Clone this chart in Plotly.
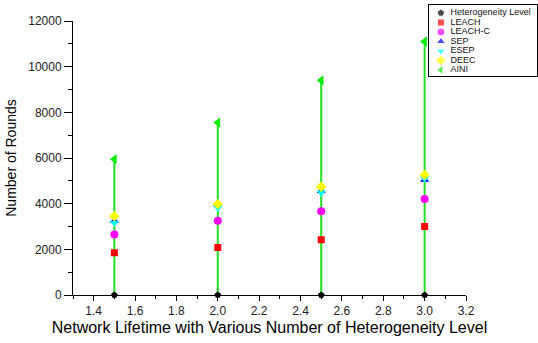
import plotly.graph_objects as go

levels = [1.5, 2.0, 2.5, 3.0]
hetero = [0, 0, 0, 0]
leach = [1850, 2080, 2420, 3000]
leach_c = [2650, 3250, 3670, 4200]
sep = [3250, 3950, 4560, 5050]
esep = [3150, 3820, 4480, 5100]
deec = [3450, 3980, 4740, 5260]
aini = [5950, 7550, 9400, 11100]

series_names = ["Heterogeneity Level", "LEACH", "LEACH-C", "SEP", "ESEP", "DEEC", "AINI"]
series_vals = [hetero, leach, leach_c, sep, esep, deec, aini]
colors = ["#000000", "#ff0000", "#ff00ff", "#0000ff", "#00ffff", "#ffff00", "#00ee00"]
symbols = ["pentagon", "square", "circle", "triangle-up", "triangle-down", "diamond", "triangle-left"]
sizes = [7, 7, 8, 8, 8, 8, 9]

FONT = "Liberation Sans, Arial, sans-serif"
fig = go.Figure()

# stems for AINI
sx, sy = [], []
for x, v in zip(levels, aini):
    sx += [x, x, None]
    sy += [0, v, None]
fig.add_trace(go.Scatter(x=sx, y=sy, mode="lines", line=dict(color="#22e022", width=2),
                         showlegend=False, hoverinfo="skip"))

for name, vals, c, s, sz in zip(series_names, series_vals, colors, symbols, sizes):
    fig.add_trace(go.Scatter(x=levels, y=vals, mode="markers", name=name,
                             marker=dict(color=c, symbol=s, size=sz, line=dict(width=0)),
                             cliponaxis=False, showlegend=False))

# custom compact legend
rows = list(range(len(series_names)))
fig.add_trace(go.Scatter(x=[0.11] * len(rows), y=rows, mode="markers", xaxis="x2", yaxis="y2",
                         marker=dict(color=colors, symbol=symbols, size=[8, 7, 8, 8, 8, 8, 8]),
                         showlegend=False, hoverinfo="skip", cliponaxis=False))
fig.add_trace(go.Scatter(x=[0.20] * len(rows), y=rows, mode="text", xaxis="x2", yaxis="y2",
                         text=series_names, textposition="middle right",
                         textfont=dict(family=FONT, size=9, color="#111"),
                         showlegend=False, hoverinfo="skip", cliponaxis=False))

fig.update_layout(
    width=538, height=343,
    margin=dict(l=73, r=1, t=5, b=48, autoexpand=False),
    paper_bgcolor="white", plot_bgcolor="white",
    font=dict(family=FONT, color="#000"),
    showlegend=False,
    xaxis=dict(domain=[0, 393 / 464], range=[1.3, 3.2], dtick=0.2, tick0=1.4, tickformat=".1f",
               automargin=False,
               showline=True, linecolor="#000", linewidth=1, ticks="outside", ticklen=5,
               tickcolor="#000", showgrid=False, zeroline=False,
               tickfont=dict(size=12, color="#222"),
               minor=dict(dtick=0.1, ticks="outside", ticklen=3, tickcolor="#000", showgrid=False),
               title=dict(text="Network Lifetime with Various Number of Heterogeneity Level",
                          font=dict(size=16, color="#000"), standoff=4)),
    yaxis=dict(domain=[0, 274 / 290], range=[0, 12000], dtick=2000, tickformat="d",
               automargin=False,
               showline=True, linecolor="#000", linewidth=1, ticks="outside", ticklen=8,
               tickcolor="#000", showgrid=False, zeroline=False,
               tickfont=dict(size=12, color="#222"),
               minor=dict(dtick=1000, ticks="outside", ticklen=4, tickcolor="#000", showgrid=False),
               title=dict(text="Number of Rounds", font=dict(size=14, color="#000"), standoff=8)),
    xaxis2=dict(domain=[(429 - 73) / 464, 1.0], range=[0, 1], anchor="y2", showline=True, mirror=True,
                linecolor="#000", linewidth=1, showticklabels=False, ticks="", showgrid=False, zeroline=False,
                fixedrange=True, automargin=False),
    yaxis2=dict(domain=[(295 - 76) / 290, 1.0], range=[6.63, -0.84], anchor="x2", showline=True, mirror=True,
                linecolor="#000", linewidth=1, showticklabels=False, ticks="", showgrid=False, zeroline=False,
                fixedrange=True, automargin=False),
)

fig.write_html("out.html", config={"displayModeBar": False, "staticPlot": True},
               post_script="document.body.style.margin='0';document.body.style.overflow='hidden';")
